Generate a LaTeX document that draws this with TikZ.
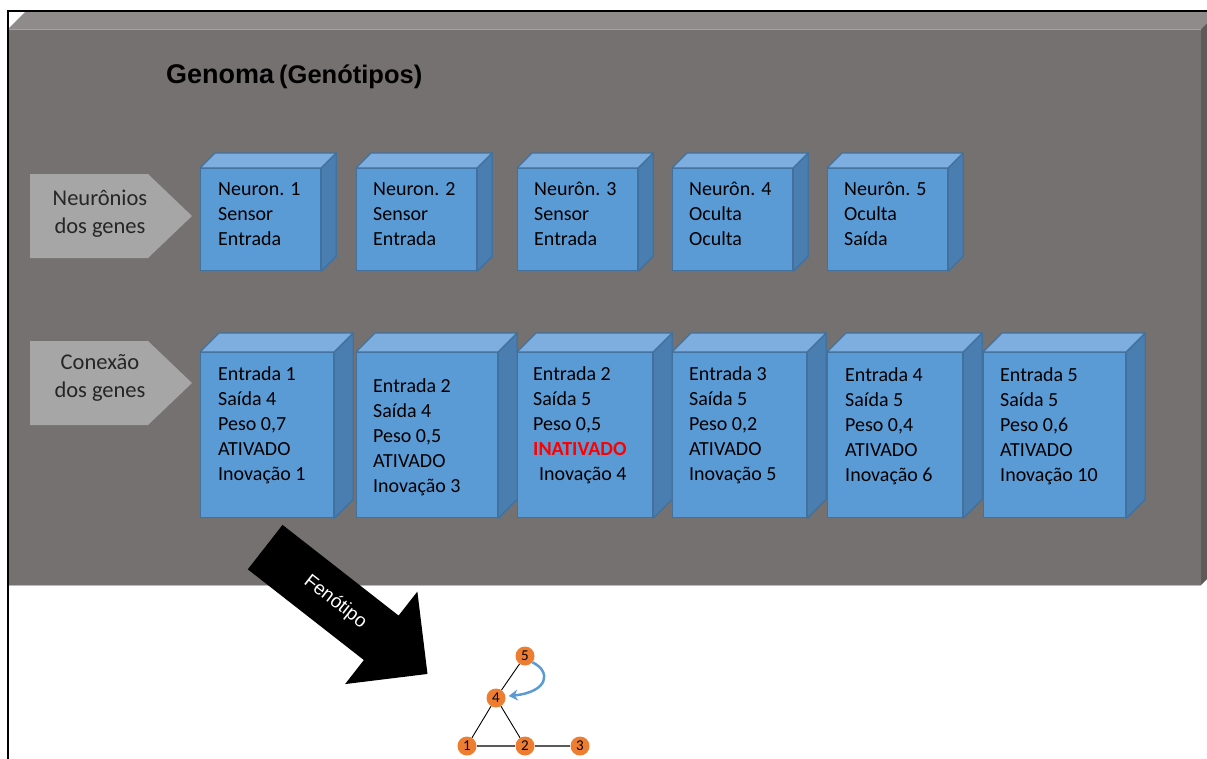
\documentclass[tikz,border=0pt]{standalone}
\usepackage{fontspec}
\setmainfont{Carlito}
\newfontfamily\arialfont{Liberation Sans}
\usetikzlibrary{shapes.arrows,arrows.meta}

\definecolor{boxfront}{HTML}{767171}
\definecolor{boxtop}{HTML}{8F8B8A}
\definecolor{boxside}{HTML}{5D5A59}
\definecolor{cubefront}{HTML}{5B9BD5}
\definecolor{cubetop}{HTML}{7DAEDF}
\definecolor{cubeside}{HTML}{4A7EB0}
\definecolor{cubeline}{HTML}{41719C}
\definecolor{labelgray}{HTML}{A6A6A6}
\definecolor{labeltext}{HTML}{262626}
\definecolor{nodeorange}{HTML}{ED7D31}

\tikzset{
  cubebox/.style={draw=cubeline, line width=1.3pt, fill=cubefront, rectangle, inner sep=0pt, anchor=north west},
  cubetext/.style={anchor=base west, align=left, inner sep=0pt, text=black, font=\fontsize{20}{25}\selectfont},
  genelabel/.style={text=labeltext, align=center, inner sep=0pt, font=\fontsize{22.5}{28}\selectfont},
  bigarrow/.style={shape=single arrow, fill=black, text=white, font=\arialfont\fontsize{19}{22}\selectfont,
    minimum height=206pt, single arrow head extend=30.5pt, single arrow tip angle=90,
    text height=14pt, text depth=4pt, inner ysep=19pt, inner xsep=0pt},
  gnode/.style={circle, fill=nodeorange, inner sep=0pt, minimum size=19pt, font=\fontsize{15}{15}\selectfont},
  gedge/.style={draw=black, line width=0.9pt},
  gedgegray/.style={draw=black!65, line width=1.6pt},
}

% cube: name, x, y (top of front face), width, height, depth
\newcommand{\genecube}[6]{%
  \node[cubebox, minimum width=#4pt, minimum height=#5pt] (#1) at (#2,#3) {};
  \draw[cubeline, line width=1.3pt, fill=cubetop, line join=round] (#1.north west) -- ++(#6pt,#6pt)
    -- ([shift={(#6pt,#6pt)}]#1.north east) -- (#1.north east) -- cycle;
  \draw[cubeline, line width=1.3pt, fill=cubeside, line join=round] (#1.north east) -- ++(#6pt,#6pt)
    -- ([shift={(#6pt,#6pt)}]#1.south east) -- (#1.south east) -- cycle;
}

\begin{document}
\begin{tikzpicture}[x=1pt,y=-1pt]
\useasboundingbox (0,0) rectangle (1207,758);

% genome box
\begin{scope}
\clip (0,0) rectangle (1207,758);
\fill[boxfront] (8,29) rectangle (1201,585);
\fill[boxtop] (8,29) -- (26,11) -- (1219,11) -- (1201,29) -- cycle;
\fill[boxside] (1201,29) -- (1219,11) -- (1219,567) -- (1201,585) -- cycle;
\draw[boxtop!80!white, line width=0.8pt] (8,29) -- (1201,29);
\draw[boxtop!60!white, line width=0.8pt] (8,585) -- (1201,585);
\draw[line width=1.5pt] (8,770) -- (8,11) -- (1215,11);
\end{scope}

\node[anchor=base west, inner sep=0pt, font=\arialfont\bfseries] (title) at (166,83)
  {{\fontsize{27}{30}\selectfont Genoma}\hspace{5pt}{\fontsize{25.5}{28}\selectfont (Genótipos)}};

% row labels
\fill[labelgray] (30,174) -- (148,174) -- (192,216) -- (148,258) -- (30,258) -- cycle;
\fill[labelgray] (30,341) -- (148,341) -- (192,383) -- (148,425) -- (30,425) -- cycle;
\node[genelabel] (neulabel) at (100,214) {Neurônios\\dos genes};
\node[genelabel] (conlabel) at (100,378) {Conexão\\dos genes};

% neuron genes
\foreach \nx/\name in {200/n1, 356/n2, 517/n3, 672/n4, 827/n5}
  {\genecube{\name}{\nx}{168}{120}{102}{15}}

\node[cubetext] (n1text) at ([shift={(18pt,-77pt)}]n1.north west) {Neuron. 1\\Sensor\\Entrada};
\node[cubetext] (n2text) at ([shift={(17pt,-77pt)}]n2.north west) {Neuron. 2\\Sensor\\Entrada};
\node[cubetext] (n3text) at ([shift={(17pt,-77pt)}]n3.north west) {Neurôn. 3\\Sensor\\Entrada};
\node[cubetext] (n4text) at ([shift={(17pt,-77pt)}]n4.north west) {Neurôn. 4\\Oculta\\Oculta};
\node[cubetext] (n5text) at ([shift={(17pt,-77pt)}]n5.north west) {Neurôn. 5\\Oculta\\Saída};

% connection genes
\foreach \cx/\cw/\name in {200/133/c1, 356/141/c2, 517/135/c3, 672/134/c4, 827/135/c5, 983/142/c6}
  {\genecube{\name}{\cx}{352}{\cw}{165}{19}}

\node[cubetext] (c1text) at ([shift={(18pt,-128pt)}]c1.north west) {Entrada 1\\Saída 4\\Peso 0,7\\ATIVADO\\Inovação 1};
\node[cubetext] (c2text) at ([shift={(17pt,-140pt)}]c2.north west) {Entrada 2\\Saída 4\\Peso 0,5\\ATIVADO\\Inovação 3};
\node[cubetext] (c3text) at ([shift={(16pt,-128pt)}]c3.north west) {Entrada 2\\Saída 5\\Peso 0,5\\{\color{red}\bfseries INATIVADO}\\\hspace*{6pt}Inovação 4};
\node[cubetext] (c4text) at ([shift={(17pt,-128pt)}]c4.north west) {Entrada 3\\Saída 5\\Peso 0,2\\ATIVADO\\Inovação 5};
\node[cubetext] (c5text) at ([shift={(18pt,-129pt)}]c5.north west) {Entrada 4\\Saída 5\\Peso 0,4\\ATIVADO\\Inovação 6};
\node[cubetext] (c6text) at ([shift={(17pt,-129pt)}]c6.north west) {Entrada 5\\Saída 5\\Peso 0,6\\ATIVADO\\Inovação 10};

% phenotype
\node[bigarrow, rotate=-38, anchor=tail] (pheno) at (265,547) {Fenótipo};

\node[gnode] (v5) at (525,656) {5};
\node[gnode] (v4) at (496,698) {4};
\node[gnode] (v1) at (467,746) {1};
\node[gnode] (v2) at (525,746) {2};
\node[gnode] (v3) at (580,746) {3};

\draw[gedge] (v5) -- (v4);
\draw[gedge] (v4) -- (v1);
\draw[gedge] (v4) -- (v2);
\draw[gedgegray] (v1) -- (v2);
\draw[gedgegray] (v2) -- (v3);
\draw[cubefront, line width=2.5pt, -{Stealth[length=9pt,width=11pt]}]
  (v5.-40) .. controls (552,672) and (548,692) .. ([shift={(3pt,2pt)}]v4.east);

\end{tikzpicture}
\end{document}
